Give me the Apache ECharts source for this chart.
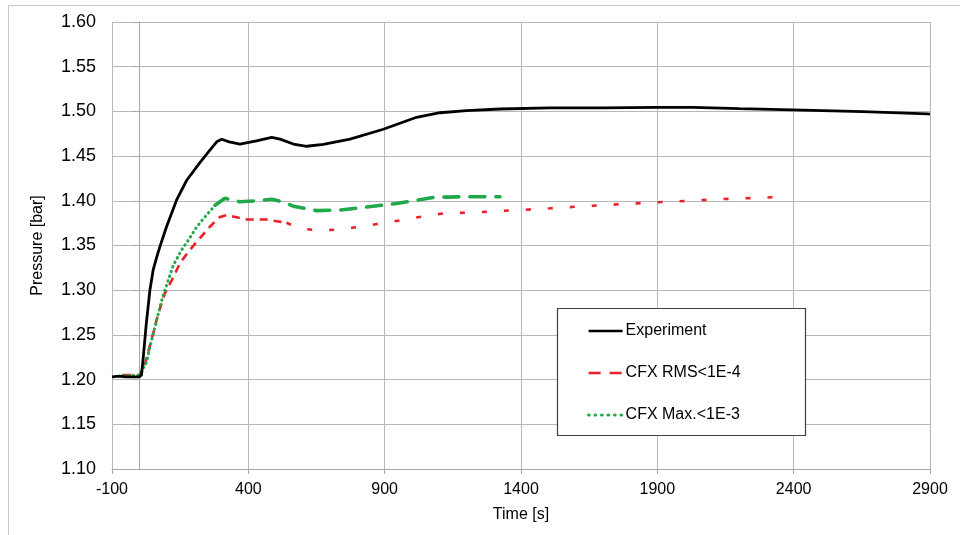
<!DOCTYPE html>
<html>
<head>
<meta charset="utf-8">
<title>Pressure vs time</title>
<script src="https://cdn.jsdelivr.net/npm/echarts@6/dist/echarts.min.js"></script>
<style>
  html, body { margin: 0; padding: 0; background: #fff; }
  #chart { width: 960px; height: 535px; }
</style>
</head>
<body>
<div id="chart"></div>
<script>
// values: time [s] / pressure [bar]
const expTime = [-100, -75, -50, -25, 0, 8, 15, 25, 39, 51, 64, 76, 100, 137, 174, 223, 259, 284, 302, 330, 369, 430, 486, 516, 565, 614, 675, 773, 895, 1017, 1103, 1200, 1323, 1506, 1700, 1897, 2031, 2200, 2397, 2654, 2892, 2900];
const expPressure = [1.203, 1.204, 1.203, 1.203, 1.203, 1.205, 1.226, 1.260, 1.300, 1.3226, 1.337, 1.349, 1.371, 1.401, 1.423, 1.443, 1.4567, 1.466, 1.4688, 1.466, 1.4635, 1.467, 1.471, 1.469, 1.4635, 1.461, 1.463, 1.469, 1.480, 1.4934, 1.4985, 1.5008, 1.5027, 1.504, 1.504, 1.5045, 1.5045, 1.503, 1.5016, 1.4997, 1.4972, 1.497];

const rmsTime = [-60, 0, 15, 51, 70, 94, 119, 149, 180, 216, 259, 296, 320, 394, 467, 540, 589, 663, 730, 803, 871, 974, 1048, 1117, 1227, 1320, 1414, 1506, 1665, 1777, 1879, 2010, 2144, 2350];
const rmsPressure = [1.205, 1.205, 1.2107, 1.2518, 1.274, 1.2965, 1.311, 1.330, 1.343, 1.356, 1.371, 1.382, 1.384, 1.379, 1.379, 1.3755, 1.369, 1.3666, 1.368, 1.3707, 1.374, 1.379, 1.383, 1.386, 1.387, 1.3886, 1.390, 1.3916, 1.3945, 1.3964, 1.398, 1.400, 1.402, 1.4042];

const maxTime = [-60, 0, 15, 27, 39, 58, 76, 88, 106, 125, 155, 180, 211, 241, 278, 314, 369, 430, 486, 525, 565, 651, 736, 822, 944, 1084, 1225, 1323];
const maxPressure = [1.205, 1.205, 1.213, 1.220, 1.2368, 1.259, 1.2815, 1.2946, 1.311, 1.328, 1.345, 1.356, 1.371, 1.382, 1.395, 1.4028, 1.399, 1.400, 1.4017, 1.399, 1.394, 1.389, 1.3897, 1.3927, 1.397, 1.404, 1.4046, 1.4046];

// the simulated curves change their dash look part way along
const rmsSplit = 15;  // index in rmsTime
const maxSplit = 14;  // index in maxTime

function pairs(xs, ys, from, to) {
  const out = [];
  for (let i = from; i < to; i++) out.push([xs[i], ys[i]]);
  return out;
}

const chart = echarts.init(document.getElementById('chart'));
const axisGrey = '#a6a6a6';
const gridGrey = '#b8b8b8';
const red = '#ec2127';
const green = '#1fa94a';

const option = {
  animation: false,
  backgroundColor: '#fff',
  grid: { left: 112, right: 30, top: 22, bottom: 66 },
  graphic: [
    {
      type: 'rect', z: 0, silent: true,
      shape: { x: 8.5, y: 5.5, width: 1000, height: 1000 },
      style: { fill: 'none', stroke: '#c8c8c8', lineWidth: 1 }
    },
    {
      type: 'rect', z: 10, silent: true,
      shape: { x: 557.5, y: 308.5, width: 248, height: 127 },
      style: { fill: '#fff', stroke: '#404040', lineWidth: 1.2 }
    }
  ],
  legend: {
    orient: 'vertical',
    left: 587,
    top: 323,
    z: 20,
    padding: 0,
    itemWidth: 34,
    itemHeight: 14,
    itemGap: 26,
    selectedMode: false,
    // lines only in the legend, no marker dot
    itemStyle: { opacity: 0 },
    textStyle: { fontSize: 16, color: '#000', fontFamily: 'Liberation Sans, Arial, sans-serif', padding: [0, 0, 0, -2] },
    data: [
      { name: 'Experiment', lineStyle: { width: 2.6 } },
      { name: 'CFX RMS<1E-4', lineStyle: { width: 2.6, type: [12, 9] } },
      { name: 'CFX Max.<1E-3', lineStyle: { width: 3.2, type: [0.5, 6], cap: 'round' } }
    ]
  },
  xAxis: {
    type: 'value',
    min: -100,
    max: 2900,
    interval: 500,
    name: 'Time [s]',
    nameLocation: 'middle',
    nameGap: 38,
    nameTextStyle: { fontSize: 16, color: '#000', fontFamily: 'Liberation Sans, Arial, sans-serif' },
    axisLine: { show: true, lineStyle: { color: axisGrey, width: 1 } },
    axisTick: { show: true, length: 5, lineStyle: { color: axisGrey } },
    axisLabel: {
      fontSize: 16, color: '#000', margin: 13,
      fontFamily: 'Liberation Sans, Arial, sans-serif',
      formatter: v => String(v)
    },
    splitLine: { show: true, lineStyle: { color: gridGrey, width: 1 } }
  },
  yAxis: {
    type: 'value',
    min: 1.1,
    max: 1.6,
    interval: 0.05,
    name: 'Pressure [bar]',
    nameLocation: 'middle',
    nameGap: 66,
    nameTextStyle: { fontSize: 16, color: '#000', fontFamily: 'Liberation Sans, Arial, sans-serif' },
    axisLine: { show: true, lineStyle: { color: axisGrey, width: 1 } },
    axisTick: { show: true, length: 7, lineStyle: { color: axisGrey } },
    axisLabel: {
      fontSize: 18, color: '#000', margin: 16,
      fontFamily: 'Liberation Sans, Arial, sans-serif',
      formatter: v => v.toFixed(2)
    },
    splitLine: { show: true, lineStyle: { color: gridGrey, width: 1 } }
  },
  series: [
    {
      name: 'Experiment',
      type: 'line',
      symbol: 'none',
      z: 4,
      lineStyle: { color: '#000', width: 2.8 },
      itemStyle: { color: '#000' },
      data: pairs(expTime, expPressure, 0, expTime.length)
    },
    {
      name: 'CFX RMS<1E-4',
      type: 'line',
      symbol: 'none',
      z: 3,
      lineStyle: { color: red, width: 2.6, type: [8, 6] },
      itemStyle: { color: red },
      data: pairs(rmsTime, rmsPressure, 0, rmsSplit + 1)
    },
    {
      // later part of the same curve: short, sparse dashes
      name: 'CFX RMS<1E-4',
      type: 'line',
      symbol: 'none',
      z: 3,
      lineStyle: { color: red, width: 2.6, type: [5, 17] },
      itemStyle: { color: red },
      data: pairs(rmsTime, rmsPressure, rmsSplit, rmsTime.length)
    },
    {
      name: 'CFX Max.<1E-3',
      type: 'line',
      symbol: 'none',
      z: 3,
      lineStyle: { color: green, width: 3, type: [0.5, 4.5], cap: 'round' },
      itemStyle: { color: green },
      data: pairs(maxTime, maxPressure, 0, maxSplit + 1)
    },
    {
      // later part: long dashes
      name: 'CFX Max.<1E-3',
      type: 'line',
      symbol: 'none',
      z: 3,
      lineStyle: { color: green, width: 3.6, type: [15, 11], cap: 'round' },
      itemStyle: { color: green },
      data: pairs(maxTime, maxPressure, maxSplit, maxTime.length)
    }
  ]
};

chart.setOption(option);
</script>
</body>
</html>
